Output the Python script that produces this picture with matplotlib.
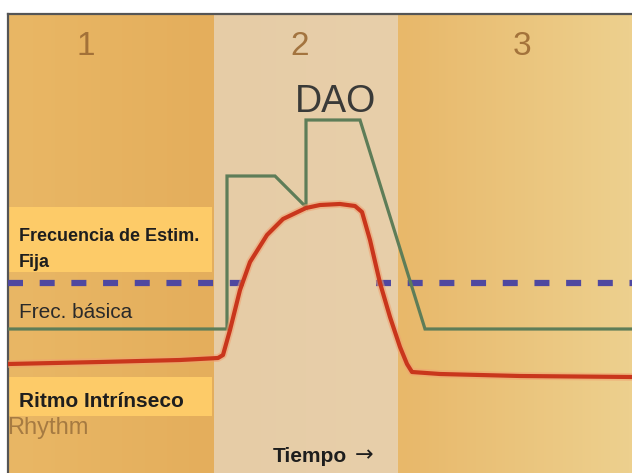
import matplotlib
matplotlib.use("Agg")
import matplotlib.pyplot as plt
import numpy as np
from matplotlib.colors import LinearSegmentedColormap

plt.rcParams['font.family'] = ['Liberation Sans', 'DejaVu Sans']

# ---- data (time in px units from left frame, rate = higher is up) ----
phase_labels = ["1", "2", "3"]
phase_edges = [0, 206, 390, 624]          # time boundaries of phases
phase_label_x = [78, 292, 514]

dao_time = [0, 219, 219, 267, 298, 298, 352, 417, 624]
dao_rate = [144, 144, 297, 297, 266, 353, 353, 144, 144]

intr_time = [0, 92, 172, 210, 215, 222, 232, 242, 259, 275, 298, 312, 332, 347,
             354, 362, 372, 382, 392, 399, 404, 432, 512, 624]
intr_rate = [109, 111, 113, 115, 118, 143, 183, 211, 238, 254, 265, 268, 269, 267,
             261, 233, 190, 156, 126, 109, 101, 99, 97, 96]

fixed_rate = 190
fixed_segments = [(0, 236), (368, 624)]

fig = plt.figure(figsize=(6.32, 4.73), dpi=100)
fig.patch.set_facecolor('white')
ax = fig.add_axes([8/632, 0, 624/632, 459/473])
ax.set_xlim(0, 624)
ax.set_ylim(0, 459)

# backgrounds
def grad(x0, x1, c0, c1, y0=0, y1=459, z=0):
    cmap = LinearSegmentedColormap.from_list('g', [c0, c1])
    g = np.linspace(0, 1, 64).reshape(1, -1)
    ax.imshow(g, cmap=cmap, extent=[x0, x1, y0, y1], aspect='auto', zorder=z,
              interpolation='bilinear')

grad(phase_edges[0], phase_edges[1], '#E9B765', '#E4AE5C')
grad(phase_edges[1], phase_edges[2], '#E6CCA6', '#E8CFAA')
grad(phase_edges[2], phase_edges[3], '#E8B86A', '#EDD08E')

# faded old label (partly hidden by box)
ax.text(-1, 39, "Rhythm", fontsize=17, color='#8A6234', alpha=0.7,
        ha='left', va='baseline', zorder=1)

# yellow label boxes
ax.add_patch(plt.Rectangle((0, 201), 204, 65, color='#FDCB68', zorder=2, lw=0))
ax.add_patch(plt.Rectangle((0, 57), 204, 39, color='#FDCB68', zorder=2, lw=0))

# fixed-rate dashed line
for a, b in fixed_segments:
    ax.plot([a, b], [fixed_rate, fixed_rate], color='#4F48A0', lw=4.5,
            dashes=(2.4, 2.67), solid_capstyle='butt', dash_capstyle='butt', zorder=3)

# DAO line
ax.plot(dao_time, dao_rate, color='#5E7D58', lw=2.3, zorder=4, solid_joinstyle='miter')

# intrinsic rhythm line (with soft halo)
ax.plot(intr_time, intr_rate, color='#F0A070', lw=5.5, alpha=0.55, zorder=4,
        solid_capstyle='round', solid_joinstyle='round')
ax.plot(intr_time, intr_rate, color='#C9361C', lw=3, zorder=5,
        solid_capstyle='round', solid_joinstyle='round')

# texts
for lab, x in zip(phase_labels, phase_label_x):
    ax.text(x, 418, lab, fontsize=24, color='#9C6A34', ha='center', va='baseline',
            alpha=0.9, zorder=6)
ax.text(328, 361, "DAO", fontsize=27, color='#3A3A38', ha='center', va='baseline', zorder=6)

ax.text(11, 232, "Frecuencia de Estim.", fontsize=13, fontweight='bold',
        color='#1E1E1E', ha='left', va='baseline', zorder=6)
ax.text(11, 206, "Fija", fontsize=13, fontweight='bold',
        color='#1E1E1E', ha='left', va='baseline', zorder=6)
ax.text(11, 155, "Frec. básica", fontsize=15, color='#2A2A2A',
        ha='left', va='baseline', zorder=6)
ax.text(11, 66, "Ritmo Intrínseco", fontsize=15, fontweight='bold',
        color='#1E1E1E', ha='left', va='baseline', zorder=6)
ax.text(265, 11, "Tiempo", fontsize=15, fontweight='bold',
        color='#1E1E1E', ha='left', va='baseline', zorder=6)
ax.text(347, 12, "\u2192", fontsize=16, family='DejaVu Sans',
        color='#1E1E1E', ha='left', va='baseline', zorder=6)

# frame
ax.set_xticks([]); ax.set_yticks([])
for s in ['right', 'bottom']:
    ax.spines[s].set_visible(False)
for s in ['left', 'top']:
    ax.spines[s].set_color('#555555')
    ax.spines[s].set_linewidth(1.6)

fig.savefig('out.png', dpi=100)
